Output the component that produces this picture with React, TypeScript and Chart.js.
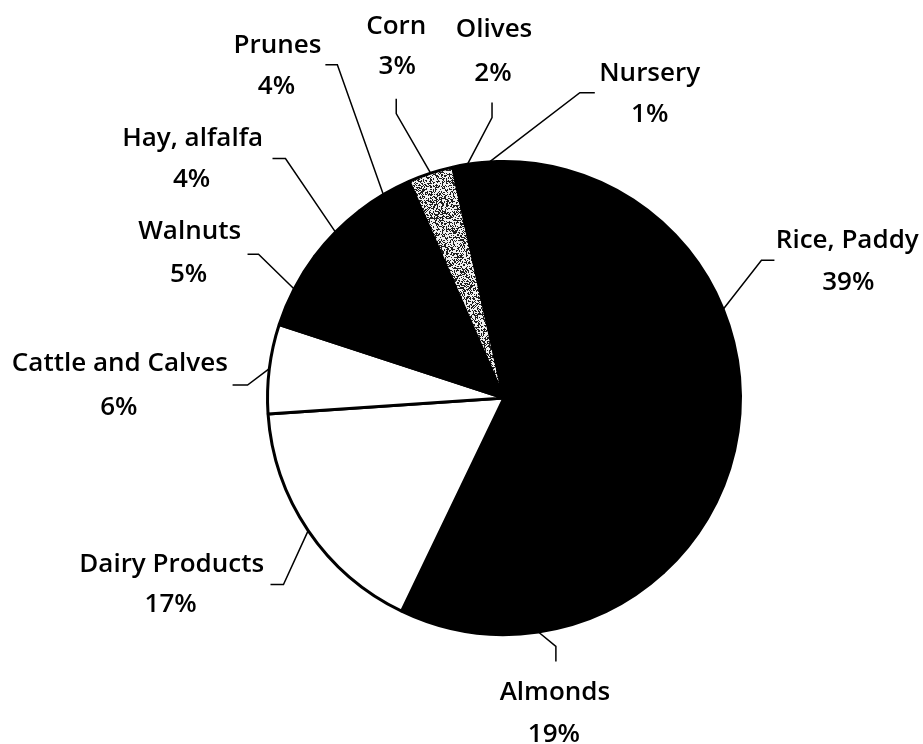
import React, { useEffect, useRef } from 'react';
import { Chart, registerables } from 'chart.js';

Chart.register(...registerables);

// ---- data (clockwise from the top) ----
const categories = [
  'Rice, Paddy',
  'Almonds',
  'Dairy Products',
  'Cattle and Calves',
  'Walnuts',
  'Hay, alfalfa',
  'Prunes',
  'Corn',
  'Olives',
  'Nursery',
];
const shares = [38.7, 18.9, 16.8, 6.1, 5.2, 4.3, 3.9, 3.1, 2.0, 1.0];
const percentLabels = shares.map((v) => `${Math.round(v)}%`);

// ---- styles ----
const fills = ['black', 'black', 'white', 'white', 'black', 'black', 'black', 'STIPPLE', 'black', 'black'];

// label layout: offsets from pie centre (px at reference radius), [x, y]
const REF_R = 237;
const labelLayout = [
  { t1: [344, -160], t2: [345, -118], tail: [271, -138], elbow: [258, -138] },
  { t1: [51, 293], t2: [50, 335], tail: [52, 264], elbow: [52, 249] },
  { t1: [-333, 165], t2: [-334, 205], tail: [-234, 187], elbow: [-221, 187] },
  { t1: [-385, -36], t2: [-386, 8], tail: [-272, -13], elbow: [-257, -13] },
  { t1: [-315, -169], t2: [-316, -126], tail: [-257, -144], elbow: [-246, -144] },
  { t1: [-312, -262], t2: [-313, -221], tail: [-232, -240], elbow: [-219, -240] },
  { t1: [-227, -355], t2: [-228, -314], tail: [-179, -334], elbow: [-167, -334] },
  { t1: [-108, -374], t2: [-107, -334], tail: [-108, -300], elbow: [-108, -285] },
  { t1: [-10, -371], t2: [-11, -327], tail: [-12, -296], elbow: [-12, -281] },
  { t1: [146, -327], t2: [146, -286], tail: [91, -306], elbow: [76, -306] },
];
const FONT_SIZE = 26;
const FONT = `600 ${FONT_SIZE}px "Open Sans", "DejaVu Sans", sans-serif`;

function makeStipple(): CanvasPattern | string {
  const size = 48;
  const c = document.createElement('canvas');
  c.width = size;
  c.height = size;
  const g = c.getContext('2d');
  if (!g) return '#888';
  const img = g.createImageData(size, size);
  for (let y = 0; y < size; y++) {
    for (let x = 0; x < size; x++) {
      let h = (Math.imul(x, 374761393) + Math.imul(y, 668265263)) | 0;
      h = Math.imul(h ^ (h >>> 13), 1274126177);
      h ^= h >>> 16;
      const v = (h >>> 0) % 100 < 42 ? 30 : 240;
      const k = (y * size + x) * 4;
      img.data[k] = v;
      img.data[k + 1] = v;
      img.data[k + 2] = v;
      img.data[k + 3] = 255;
    }
  }
  g.putImageData(img, 0, 0);
  return g.createPattern(c, 'repeat') || '#888';
}

const labelPlugin = {
  id: 'outsideLabels',
  afterDraw(chart: any) {
    const ctx = chart.ctx as CanvasRenderingContext2D;
    const meta = chart.getDatasetMeta(0);
    ctx.save();
    ctx.strokeStyle = '#000';
    ctx.lineWidth = 1.5;
    ctx.fillStyle = '#000';
    ctx.font = FONT;
    ctx.textAlign = 'center';
    ctx.textBaseline = 'alphabetic';
    meta.data.forEach((arc: any, i: number) => {
      const { x, y, startAngle, endAngle, outerRadius } = arc.getProps(
        ['x', 'y', 'startAngle', 'endAngle', 'outerRadius'],
        true
      );
      const L = labelLayout[i];
      const s = outerRadius / REF_R;
      const mid = (startAngle + endAngle) / 2;
      const ex = x + Math.cos(mid) * outerRadius;
      const ey = y + Math.sin(mid) * outerRadius;
      ctx.beginPath();
      ctx.moveTo(x + L.tail[0] * s, y + L.tail[1] * s);
      ctx.lineTo(x + L.elbow[0] * s, y + L.elbow[1] * s);
      ctx.lineTo(ex, ey);
      ctx.stroke();
      const off = FONT_SIZE * 0.36;
      ctx.fillText(categories[i], x + L.t1[0] * s, y + L.t1[1] * s + off);
      ctx.fillText(percentLabels[i], x + L.t2[0] * s, y + L.t2[1] * s + off);
    });
    ctx.restore();
  },
};

export default function App() {
  const ref = useRef<HTMLCanvasElement>(null);
  useEffect(() => {
    if (!ref.current) return;
    const stipple = makeStipple();
    const colors = fills.map((f) => (f === 'STIPPLE' ? stipple : f));
    const chart = new Chart(ref.current, {
      type: 'pie',
      data: {
        labels: categories,
        datasets: [
          {
            data: shares,
            backgroundColor: colors as any,
            borderColor: '#000',
            borderWidth: 3,
          },
        ],
      },
      options: {
        responsive: false,
        animation: false,
        rotation: -1.7,
        layout: { padding: { left: 266, right: 181, top: 160, bottom: 108 } },
        plugins: {
          legend: { display: false },
          tooltip: { enabled: false },
        },
      },
      plugins: [labelPlugin],
    });
    return () => chart.destroy();
  }, []);
  return (
    <div style={{ position: 'absolute', left: 0, top: 0, width: 923, height: 744, background: '#fff' }}>
      <canvas ref={ref} width={923} height={744} />
    </div>
  );
}
